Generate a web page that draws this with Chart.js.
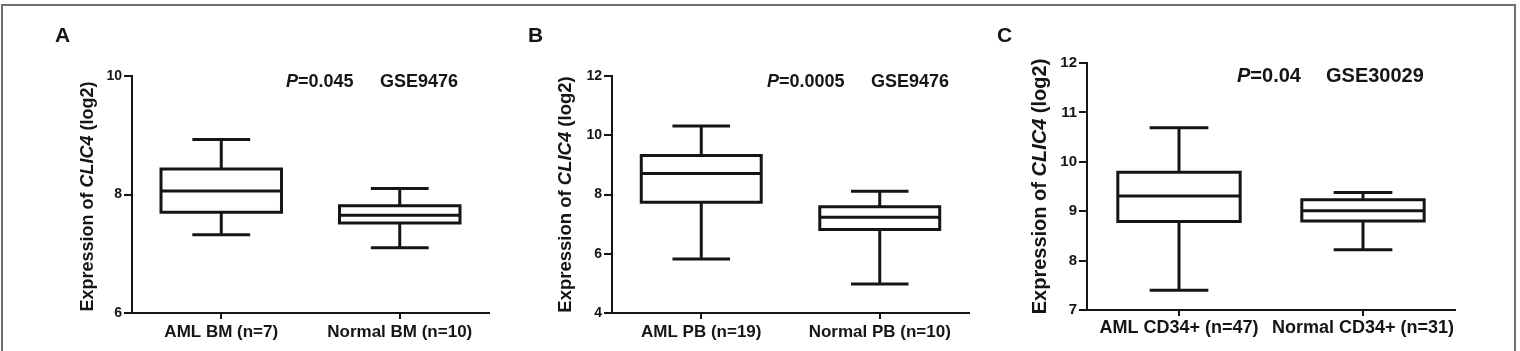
<!DOCTYPE html>
<html>
<head>
<meta charset="utf-8">
<script src="https://cdn.jsdelivr.net/npm/chart.js@4.4.1/dist/chart.umd.min.js"></script>
<style>
html,body{margin:0;padding:0;background:#fff;width:1520px;height:351px;overflow:hidden;}
.frame{position:absolute;left:1px;top:4px;width:1511px;height:360px;border:2px solid #707070;border-bottom:none;}
canvas{position:absolute;top:0;}
</style>
</head>
<body>
<div class="frame"></div>
<canvas id="cA" width="500" height="351" style="left:0px"></canvas>
<canvas id="cB" width="480" height="351" style="left:500px"></canvas>
<canvas id="cC" width="540" height="351" style="left:980px"></canvas>
<script>
// ---------- Data ----------
// Panel A  (GSE9476, bone marrow)
const categoriesA = ['AML BM (n=7)', 'Normal BM (n=10)'];
const minA    = [7.32, 7.10];
const q1A     = [7.70, 7.52];
const medianA = [8.06, 7.65];
const q3A     = [8.43, 7.81];
const maxA    = [8.93, 8.10];
const yTicksA = [6, 8, 10];

// Panel B  (GSE9476, peripheral blood)
const categoriesB = ['AML PB (n=19)', 'Normal PB (n=10)'];
const minB    = [5.82, 4.98];
const q1B     = [7.74, 6.82];
const medianB = [8.71, 7.23];
const q3B     = [9.32, 7.59];
const maxB    = [10.31, 8.11];
const yTicksB = [4, 6, 8, 10, 12];

// Panel C  (GSE30029, CD34+)
const categoriesC = ['AML CD34+ (n=47)', 'Normal CD34+ (n=31)'];
const minC    = [7.40, 8.22];
const q1C     = [8.79, 8.80];
const medianC = [9.31, 9.01];
const q3C     = [9.79, 9.23];
const maxC    = [10.69, 9.38];
const yTicksC = [7, 8, 9, 10, 11, 12];

const panelLetters = ['A', 'B', 'C'];
const pValues = ['0.045', '0.0005', '0.04'];
const datasetIds = ['GSE9476', 'GSE9476', 'GSE30029'];

// ---------- Rendering ----------
const FONT = '"Liberation Sans", Arial, Helvetica, sans-serif';
const INK = '#151515';

function drawSegments(ctx, segs, size, x, y, align) {
  let total = 0;
  const widths = segs.map(s => {
    ctx.font = (s.italic ? 'italic ' : '') + 'bold ' + size + 'px ' + FONT;
    const w = ctx.measureText(s.text).width;
    total += w;
    return w;
  });
  let cx = align === 'center' ? x - total / 2 : x;
  segs.forEach((s, i) => {
    ctx.font = (s.italic ? 'italic ' : '') + 'bold ' + size + 'px ' + FONT;
    ctx.fillText(s.text, cx, y);
    cx += widths[i];
  });
}

function makePanel(p) {
  const L = p.canvasLeft;
  const canvas = document.getElementById(p.id);
  const W = canvas.width, H = canvas.height;

  const boxPlugin = {
    id: 'boxWhisker' + p.id,
    afterDatasetsDraw(chart) {
      const ctx = chart.ctx;
      const ys = chart.scales.y;
      const meta = chart.getDatasetMeta(0);
      ctx.save();
      ctx.strokeStyle = INK;
      ctx.lineWidth = 3;
      ctx.lineCap = 'butt';
      ctx.lineJoin = 'miter';
      meta.data.forEach((bar, i) => {
        const cx = bar.x, half = bar.width / 2, cap = bar.width * 0.24;
        const yMin = ys.getPixelForValue(p.min[i]);
        const yQ1 = ys.getPixelForValue(p.q1[i]);
        const yMed = ys.getPixelForValue(p.median[i]);
        const yQ3 = ys.getPixelForValue(p.q3[i]);
        const yMax = ys.getPixelForValue(p.max[i]);
        ctx.beginPath();
        ctx.rect(cx - half, yQ3, half * 2, yQ1 - yQ3);
        ctx.moveTo(cx - half, yMed); ctx.lineTo(cx + half, yMed);
        ctx.moveTo(cx, yQ3); ctx.lineTo(cx, yMax);
        ctx.moveTo(cx, yQ1); ctx.lineTo(cx, yMin);
        ctx.moveTo(cx - cap, yMax); ctx.lineTo(cx + cap, yMax);
        ctx.moveTo(cx - cap, yMin); ctx.lineTo(cx + cap, yMin);
        ctx.stroke();
      });
      ctx.restore();
    },
    afterDraw(chart) {
      const ctx = chart.ctx;
      ctx.save();
      ctx.fillStyle = INK;
      ctx.textBaseline = 'alphabetic';
      ctx.textAlign = 'left';
      // panel letter
      ctx.font = 'bold 21px ' + FONT;
      ctx.fillText(p.letter, p.letterX - L, 41.5);
      // P value and dataset
      drawSegments(ctx, [{text: 'P', italic: true}, {text: '=' + p.pval}], p.annSize, p.pX - L, p.annY, 'left');
      drawSegments(ctx, [{text: p.gse}], p.annSize, p.gseX - L, p.annY, 'left');
      // y axis title (rotated)
      ctx.translate(p.titleX - L, (chart.chartArea.top + chart.chartArea.bottom) / 2 + p.titleDY);
      ctx.rotate(-Math.PI / 2);
      drawSegments(ctx, [{text: 'Expression of '}, {text: 'CLIC4', italic: true}, {text: ' (log2)'}], p.titleSize, 0, 0, 'center');
      ctx.restore();
    }
  };

  return new Chart(canvas, {
    type: 'bar',
    data: {
      labels: p.categories,
      datasets: [{
        data: p.q1.map((v, i) => [v, p.q3[i]]),
        backgroundColor: '#ffffff',
        borderWidth: 0,
        barPercentage: p.barPct,
        categoryPercentage: 1
      }]
    },
    options: {
      responsive: false,
      animation: false,
      devicePixelRatio: 1,
      layout: { padding: { top: p.plotTop, left: 0, right: W - (p.plotRight - L), bottom: 0 } },
      plugins: { legend: { display: false }, tooltip: { enabled: false }, title: { display: false } },
      scales: {
        x: {
          type: 'category',
          offset: true,
          grid: { display: true, drawOnChartArea: false, offset: false, tickLength: 6, lineWidth: 2, color: INK },
          border: { display: true, width: 2, color: INK },
          ticks: { color: INK, padding: p.xPad, font: { family: FONT, size: p.xSize, weight: 'bold', lineHeight: 1.2 }, maxRotation: 0, autoSkip: false },
          afterFit(s) { s.height = H - p.plotBottom; }
        },
        y: {
          min: p.yTicks[0],
          max: p.yTicks[p.yTicks.length - 1],
          grid: { display: true, drawOnChartArea: false, tickLength: 8, lineWidth: 2, color: INK },
          border: { display: true, width: 2, color: INK },
          ticks: { color: INK, padding: 2, font: { family: FONT, size: p.ySize, weight: 'bold' } },
          afterBuildTicks(s) { s.ticks = p.yTicks.map(v => ({ value: v })); },
          afterFit(s) { s.width = p.plotLeft - L; }
        }
      }
    },
    plugins: [boxPlugin]
  });
}

makePanel({
  id: 'cA', canvasLeft: 0, categories: categoriesA,
  min: minA, q1: q1A, median: medianA, q3: q3A, max: maxA, yTicks: yTicksA,
  plotLeft: 132, plotRight: 489, plotTop: 76, plotBottom: 313, barPct: 0.675,
  xSize: 17, xPad: 3, ySize: 14,
  letter: panelLetters[0], letterX: 55, pval: pValues[0], gse: datasetIds[0],
  annSize: 18, annY: 86.5, pX: 286, gseX: 380,
  titleX: 92.5, titleDY: 2, titleSize: 18
});
makePanel({
  id: 'cB', canvasLeft: 500, categories: categoriesB,
  min: minB, q1: q1B, median: medianB, q3: q3B, max: maxB, yTicks: yTicksB,
  plotLeft: 612, plotRight: 969, plotTop: 76, plotBottom: 313, barPct: 0.672,
  xSize: 17, xPad: 3, ySize: 14,
  letter: panelLetters[1], letterX: 528, pval: pValues[1], gse: datasetIds[1],
  annSize: 18, annY: 86.5, pX: 767, gseX: 871,
  titleX: 571, titleDY: 0, titleSize: 18.5
});
makePanel({
  id: 'cC', canvasLeft: 980, categories: categoriesC,
  min: minC, q1: q1C, median: medianC, q3: q3C, max: maxC, yTicks: yTicksC,
  plotLeft: 1087, plotRight: 1455, plotTop: 63, plotBottom: 310, barPct: 0.665,
  xSize: 18, xPad: 1, ySize: 15,
  letter: panelLetters[2], letterX: 997, pval: pValues[2], gse: datasetIds[2],
  annSize: 20, annY: 81.5, pX: 1237, gseX: 1326,
  titleX: 1046, titleDY: 0, titleSize: 20
});
</script>
</body>
</html>
